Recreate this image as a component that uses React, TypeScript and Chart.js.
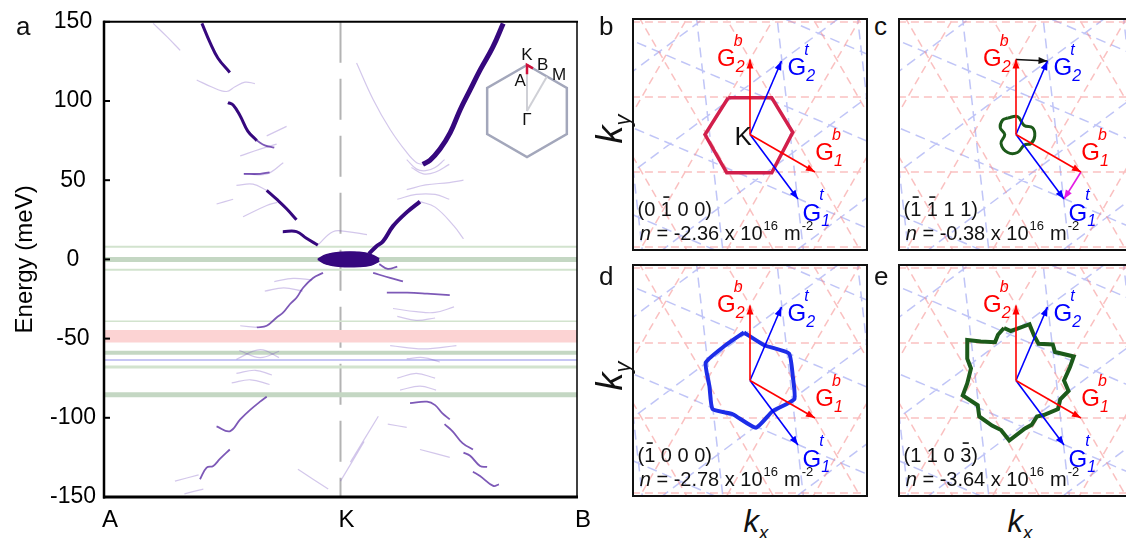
import React, { useEffect, useRef } from "react";
import { Chart, registerables } from "chart.js";

Chart.register(...registerables);

const FONT = "'Liberation Sans', Arial, Helvetica, sans-serif";
Chart.defaults.font.family = FONT;

// ================= Panel a : band structure =================
const energyTicks = [150, 100, 50, 0, -50, -100, -150];
const pathTicks = [0, 0.5, 1];
const pathLabels = ["A", "K", "B"];

// strong bands  [k along A-K-B (0..1), energy meV]
const bandA1 = [[0.207, 149], [0.224, 137], [0.241, 127], [0.266, 118]];
const bandA2 = [[0.262, 99], [0.273, 97.5], [0.288, 90.5], [0.304, 81], [0.323, 75]];
const bandA3 = [[0.344, 43.6], [0.365, 38], [0.386, 32], [0.407, 25]];
const bandA4 = [[0.378, 17.5], [0.407, 17.5], [0.428, 13.3], [0.452, 9]];
const lensUpper = [[0.452, 0], [0.47, 3], [0.5, 4.5], [0.54, 4.5], [0.565, 3], [0.582, 0.5]];
const lensLower = [[0.452, 0], [0.47, -3], [0.5, -4.5], [0.54, -4.5], [0.565, -3.5], [0.582, -1]];
const bandB1 = [[0.56, 3.5], [0.575, 8], [0.59, 11.5], [0.611, 21], [0.641, 30], [0.668, 36.5]];
const bandB2 = [[0.674, 60], [0.689, 62.5], [0.71, 69.5], [0.732, 80], [0.753, 94.5], [0.774, 107], [0.795, 119.5], [0.822, 134], [0.844, 149]];

// medium-weight bands
const bandM1 = [[0.569, -8.5], [0.605, -11.7], [0.632, -13.8]];
const bandM2 = [[0.598, -21], [0.641, -21], [0.683, -21.6], [0.731, -22.5]];
const bandM3 = [[0.647, -90.8], [0.683, -89.8], [0.7, -92], [0.715, -97], [0.731, -101]];
const bandM4 = [[0.72, -104], [0.737, -108.5], [0.758, -116], [0.78, -120]];
const bandM5 = [[0.76, -122], [0.774, -124], [0.795, -130.4], [0.81, -131]];
const bandM6 = [[0.78, -134], [0.795, -136.7], [0.823, -143], [0.835, -142]];
const bandL1 = [[0.323, -42.9], [0.344, -41.9], [0.365, -36.7], [0.379, -33.5], [0.393, -28.3], [0.407, -24.2], [0.421, -17.9], [0.442, -11.7], [0.463, -8.5]];
const bandL2 = [[0.238, -105.4], [0.266, -108.5], [0.288, -101], [0.309, -95], [0.33, -89.8], [0.344, -86.7]];
const bandL3 = [[0.203, -138.8], [0.217, -131.5], [0.231, -130.4], [0.245, -126], [0.266, -120]];
const lensTail = [[0.582, -3], [0.6, -6], [0.62, -4.5]];
const bandU1 = [[0.323, 75], [0.34, 72], [0.36, 70.5]];
const bandU2 = [[0.296, 54], [0.33, 54], [0.35, 55]];

// faint bands
const faintBands = [
  [[0.104, 149], [0.133, 140.6], [0.161, 132]],
  [[0.196, 113.3], [0.228, 108.8], [0.259, 106], [0.277, 109], [0.298, 111.9], [0.319, 111]],
  [[0.288, 65.4], [0.33, 69.6], [0.365, 72.8]],
  [[0.344, 78], [0.386, 84]],
  [[0.294, 54], [0.344, 54], [0.379, 61]],
  [[0.28, 46.7], [0.315, 47.5], [0.344, 43.6]],
  [[0.238, 35], [0.273, 38]],
  [[0.294, 26.9], [0.344, 34], [0.366, 36]],
  [[0.452, 9], [0.484, 17.5], [0.514, 17.5], [0.556, 15.6]],
  [[0.534, 124], [0.569, 101], [0.605, 82], [0.64, 67.5], [0.661, 61], [0.674, 60]],
  [[0.64, 63], [0.661, 57], [0.68, 56], [0.7, 58], [0.72, 63]],
  [[0.65, 58], [0.675, 54], [0.7, 55], [0.73, 60]],
  [[0.64, 44], [0.68, 47], [0.73, 48.5], [0.76, 50]],
  [[0.62, 38], [0.66, 41], [0.7, 41], [0.73, 38]],
  [[0.668, 36.5], [0.7, 33], [0.74, 21], [0.76, 13]],
  [[0.611, -31], [0.66, -33], [0.7, -33.5], [0.74, -30]],
  [[0.62, -36], [0.66, -38.5], [0.7, -37]],
  [[0.605, -54.4], [0.675, -56.5], [0.745, -54.4]],
  [[0.64, -62.7], [0.675, -62], [0.71, -64.8]],
  [[0.626, -82.5], [0.668, -80], [0.702, -82.5]],
  [[0.62, -75], [0.66, -72], [0.7, -75]],
  [[0.668, -120], [0.731, -125]],
  [[0.521, -128], [0.58, -99]],
  [[0.5, -140], [0.55, -115]],
  [[0.6, -104], [0.64, -106]],
  [[0.286, -57.5], [0.33, -62], [0.37, -58]],
  [[0.28, -63], [0.33, -57], [0.37, -62]],
  [[0.27, -78], [0.31, -76], [0.35, -79]],
  [[0.28, -72], [0.32, -70], [0.355, -73]],
  [[0.41, -132.5], [0.474, -145]],
  [[0.15, -140], [0.2, -136]],
  [[0.17, -148], [0.21, -145]],
  [[0.288, -41.9], [0.323, -42.9]],
  [[0.36, -14], [0.4, -12], [0.44, -13]],
  [[0.34, -20], [0.38, -18], [0.42, -20]],
];

// horizontal level markers (meV)
const greenThinLevels = [8, -6.5, -39, -68];
const greenThickLevels = [0, -59, -85.5];
const blueLevels = [-63.5];
const redBandRange = [-44.5, -52.5];

// inset Brillouin zone
const bzHexagon = [[0, 1], [0.866, 0.5], [0.866, -0.5], [0, -1], [-0.866, -0.5], [-0.866, 0.5], [0, 1]];
const bzPathGK = [[0, 0], [0, 1]];
const bzPathGM = [[0, 0], [0.433, 0.75]];
const bzPathAKB = [[0, 0.8], [0, 1], [0.13, 0.925]];
const bzLabels = ["K", "B", "M", "A", "Γ"];
const bzLabelPos = [[0, 1.22], [0.34, 1.0], [0.7, 0.78], [-0.15, 0.64], [0, -0.2]];

// ================= Panels b-e : reciprocal space =================
const gb1 = [0.866, -0.5];
const gb2 = [0, 1];
const gt1 = [0.64, -0.86];
const gt2 = [0.42, 0.98];

const contourB = [[-0.29, 0.49], [0.29, 0.49], [0.57, 0.03], [0.29, -0.51], [-0.31, -0.51], [-0.6, 0], [-0.29, 0.49]];
const contourC = [[-0.11, 0.22], [0.02, 0.24], [0.11, 0.12], [0.22, 0.09], [0.25, -0.02], [0.2, -0.12], [0.11, -0.14], [0.02, -0.24], [-0.11, -0.24], [-0.2, -0.12], [-0.15, 0], [-0.21, 0.09], [-0.18, 0.19], [-0.11, 0.22]];
const contourD = [[-0.08, 0.64], [0.19, 0.47], [0.52, 0.36], [0.57, 0.06], [0.59, -0.25], [0.3, -0.41], [0.08, -0.63], [-0.23, -0.45], [-0.5, -0.38], [-0.54, -0.08], [-0.59, 0.24], [-0.34, 0.46], [-0.08, 0.64]];
const contourE = [[-0.16, 0.7], [-0.07, 0.66], [0.02, 0.69], [0.18, 0.75], [0.24, 0.6], [0.3, 0.49], [0.49, 0.48], [0.52, 0.38], [0.77, 0.32], [0.72, 0.18], [0.64, 0], [0.7, -0.14], [0.59, -0.25], [0.56, -0.38], [0.37, -0.46], [0.28, -0.48], [0.21, -0.59], [0.12, -0.64], [-0.09, -0.8], [-0.2, -0.66], [-0.32, -0.6], [-0.49, -0.48], [-0.51, -0.33], [-0.71, -0.2], [-0.65, -0.04], [-0.6, 0.16], [-0.65, 0.29], [-0.65, 0.54], [-0.47, 0.52], [-0.28, 0.51], [-0.24, 0.61], [-0.16, 0.7]];

const millerIndices = [[0, -1, 0, 0], [-1, -1, 1, 1], [-1, 0, 0, 0], [1, 1, 0, -3]];
const densities = ["-2.36", "-0.38", "-2.78", "-3.64"];

const labelG2b = [-0.44, 1.0];
const labelG2t = [0.5, 0.88];
const labelG1b = [0.87, -0.25];
const labelG1t = [0.7, -1.06];

// ---------------- helpers ----------------
const pts = (arr) => arr.map(([x, y]) => ({ x, y }));

function lineDs(arr, color, width, extra = {}) {
  return {
    data: pts(arr),
    borderColor: color,
    backgroundColor: color,
    borderWidth: width,
    pointRadius: 0,
    tension: 0.4,
    fill: false,
    ...extra,
  };
}

function braggLines(g1, g2) {
  const fams = [g1, g2, [g1[0] + g2[0], g1[1] + g2[1]]];
  const out = [];
  for (const g of fams) {
    const len = Math.hypot(g[0], g[1]);
    const ux = g[0] / len;
    const uy = g[1] / len;
    for (const m of [-2.5, -1.5, -0.5, 0.5, 1.5, 2.5]) {
      const cx = ux * m * len;
      const cy = uy * m * len;
      out.push({ x: cx - uy * 4, y: cy + ux * 4 });
      out.push({ x: cx + uy * 4, y: cy - ux * 4 });
      out.push({ x: cx, y: null });
    }
  }
  return out;
}

function arrowHead(ctx, x1, y1, x2, y2, color) {
  const a = Math.atan2(y2 - y1, x2 - x1);
  const len = 9;
  const half = 3.5;
  ctx.beginPath();
  ctx.moveTo(x2, y2);
  ctx.lineTo(x2 - len * Math.cos(a) + half * Math.sin(a), y2 - len * Math.sin(a) - half * Math.cos(a));
  ctx.lineTo(x2 - len * Math.cos(a) - half * Math.sin(a), y2 - len * Math.sin(a) + half * Math.cos(a));
  ctx.closePath();
  ctx.fillStyle = color;
  ctx.fill();
}

function drawG(ctx, x, y, sup, sub, color) {
  ctx.fillStyle = color;
  ctx.textAlign = "left";
  ctx.textBaseline = "middle";
  ctx.font = `24px ${FONT}`;
  ctx.fillText("G", x, y);
  const w = ctx.measureText("G").width;
  ctx.font = `italic 16px ${FONT}`;
  ctx.fillText(sup, x + w - 2, y - 18);
  ctx.fillText(sub, x + w, y + 8);
}

function drawMiller(ctx, x, y, idx) {
  ctx.fillStyle = "#111";
  ctx.textAlign = "left";
  ctx.textBaseline = "alphabetic";
  ctx.font = `20px ${FONT}`;
  let cx = x;
  ctx.fillText("(", cx, y);
  cx += ctx.measureText("(").width;
  idx.forEach((v, i) => {
    if (i > 0) {
      ctx.fillText(" ", cx, y);
      cx += ctx.measureText(" ").width;
    }
    const s = String(Math.abs(v));
    ctx.fillText(s, cx, y);
    const w = ctx.measureText(s).width;
    if (v < 0) ctx.fillRect(cx + 2.5, y - 20, w - 5, 1.6);
    cx += w;
  });
  ctx.fillText(")", cx, y);
}

function drawDensity(ctx, x, y, val) {
  ctx.fillStyle = "#111";
  ctx.textAlign = "left";
  ctx.textBaseline = "alphabetic";
  let cx = x;
  ctx.font = `italic 20px ${FONT}`;
  ctx.fillText("n", cx, y);
  cx += ctx.measureText("n").width;
  ctx.font = `20px ${FONT}`;
  const t = ` = ${val} x 10`;
  ctx.fillText(t, cx, y);
  cx += ctx.measureText(t).width;
  ctx.font = `13px ${FONT}`;
  ctx.fillText("16", cx + 1, y - 10);
  cx += ctx.measureText("16").width + 7;
  ctx.font = `20px ${FONT}`;
  ctx.fillText("m", cx, y);
  cx += ctx.measureText("m").width;
  ctx.font = `13px ${FONT}`;
  ctx.fillText("-2", cx + 1, y - 10);
}

// ---------------- main chart ----------------
const frameA = {
  id: "frameA",
  afterDraw(chart) {
    const { ctx, chartArea: a, scales } = chart;
    ctx.save();
    ctx.strokeStyle = "#000";
    ctx.lineWidth = 2;
    energyTicks.forEach((v) => {
      const y = scales.y.getPixelForValue(v);
      ctx.beginPath();
      ctx.moveTo(a.left, y);
      ctx.lineTo(a.left + 6, y);
      ctx.stroke();
    });
    ctx.lineWidth = 2;
    ctx.beginPath();
    ctx.moveTo(a.left - 1, a.top);
    ctx.lineTo(a.right + 1, a.top);
    ctx.stroke();
    ctx.lineWidth = 1.5;
    ctx.beginPath();
    ctx.moveTo(a.right, a.top);
    ctx.lineTo(a.right, a.bottom);
    ctx.stroke();
    ctx.lineWidth = 2.5;
    ctx.beginPath();
    ctx.moveTo(a.left, a.top - 1);
    ctx.lineTo(a.left, a.bottom + 1.5);
    ctx.stroke();
    ctx.lineWidth = 3;
    ctx.beginPath();
    ctx.moveTo(a.left - 1, a.bottom);
    ctx.lineTo(a.right + 1, a.bottom);
    ctx.stroke();
    ctx.restore();
  },
};

function mainConfig() {
  const dark = "#36087e";
  const mid = "rgba(75,25,155,0.72)";
  const faint = "rgba(110,70,190,0.3)";
  const ds = [];
  [bandA1, bandA2, bandA3, bandA4].forEach((b) => ds.push(lineDs(b, dark, 3, { order: 0 })));
  ds.push(lineDs(bandB1, dark, 4, { order: 0 }));
  ds.push(lineDs(bandB2, dark, 5, { order: 0 }));
  ds.push(lineDs(lensUpper, dark, 1.5, { order: 0 }));
  ds.push(lineDs(lensLower, dark, 1.5, { order: 0, fill: "-1", backgroundColor: dark }));
  [bandM1, bandM2, bandM3, bandM4, bandM5, bandM6, bandL1, bandL2, bandL3, lensTail, bandU1, bandU2].forEach((b) =>
    ds.push(lineDs(b, mid, 1.8, { order: 0 }))
  );
  faintBands.forEach((b) => ds.push(lineDs(b, faint, 1.2, { order: 0 })));
  const lvl = (e, color, w) => lineDs([[0, e], [1, e]], color, w, { order: 1, tension: 0 });
  const thinW = [2, 2, 1.5, 3];
  greenThinLevels.forEach((e, i) => ds.push(lvl(e, "#d2e3ce", thinW[i])));
  const thickW = [5, 4, 5];
  greenThickLevels.forEach((e, i) => ds.push(lvl(e, "#c4d7c3", thickW[i])));
  blueLevels.forEach((e) => ds.push(lvl(e, "#c6c6f4", 2)));
  ds.push(lineDs([[0, redBandRange[0]], [1, redBandRange[0]]], "rgba(0,0,0,0)", 0, { order: 1, tension: 0 }));
  ds.push(
    lineDs([[0, redBandRange[1]], [1, redBandRange[1]]], "rgba(0,0,0,0)", 0, {
      order: 1,
      tension: 0,
      fill: "-1",
      backgroundColor: "#fcd3d3",
    })
  );
  ds.push(lineDs([[0.5, 150], [0.5, -150]], "#b3b3b3", 2, { order: 2, tension: 0, borderDash: [41, 16] }));

  return {
    type: "line",
    data: { datasets: ds },
    options: {
      responsive: false,
      devicePixelRatio: 1,
      animation: false,
      layout: { padding: { top: 18, right: 23, bottom: 0, left: 0 } },
      plugins: { legend: { display: false }, tooltip: { enabled: false } },
      scales: {
        x: {
          type: "linear",
          min: 0,
          max: 1,
          grid: { display: false, drawTicks: false },
          border: { display: false },
          afterBuildTicks: (ax) => {
            ax.ticks = pathTicks.map((value) => ({ value }));
          },
          afterFit: (s) => {
            s.height = 41;
          },
          ticks: {
            autoSkip: false,
            maxRotation: 0,
            padding: 9,
            labelOffset: 6,
            color: "#000",
            font: { size: 24, family: FONT },
            callback: (v, i) => pathLabels[i],
          },
        },
        y: {
          type: "linear",
          min: -150,
          max: 150,
          grid: { display: false, drawTicks: false },
          border: { display: false },
          afterBuildTicks: (ax) => {
            ax.ticks = energyTicks.map((value) => ({ value }));
          },
          afterFit: (s) => {
            s.width = 104;
          },
          ticks: {
            crossAlign: "center",
            padding: 8,
            color: "#000",
            font: { size: 23, family: FONT },
            callback: (v) => String(v),
          },
          title: {
            display: true,
            text: "Energy (meV)",
            color: "#000",
            font: { size: 24, family: FONT },
            padding: { top: 11, bottom: 0 },
          },
        },
      },
    },
    plugins: [frameA],
  };
}

// ---------------- inset BZ ----------------
const insetLabels = {
  id: "insetLabels",
  afterDatasetsDraw(chart) {
    const { ctx, scales } = chart;
    ctx.save();
    ctx.fillStyle = "#111";
    ctx.font = `17px ${FONT}`;
    ctx.textAlign = "center";
    ctx.textBaseline = "middle";
    bzLabels.forEach((t, i) => {
      ctx.fillText(t, scales.x.getPixelForValue(bzLabelPos[i][0]), scales.y.getPixelForValue(bzLabelPos[i][1]));
    });
    ctx.restore();
  },
};

function insetConfig() {
  return {
    type: "line",
    data: {
      datasets: [
        lineDs(bzPathAKB, "#d0103a", 2.5, { tension: 0, order: 0 }),
        lineDs(bzPathGK, "#cfd0d6", 2, { tension: 0, order: 1 }),
        lineDs(bzPathGM, "#cfd0d6", 2, { tension: 0, order: 1 }),
        lineDs(bzHexagon, "#a3a7bb", 2.5, { tension: 0, order: 2 }),
      ],
    },
    options: {
      responsive: false,
      devicePixelRatio: 1,
      animation: false,
      layout: { padding: 0 },
      plugins: { legend: { display: false }, tooltip: { enabled: false } },
      scales: {
        x: { type: "linear", display: false, min: -1.087, max: 1.087 },
        y: { type: "linear", display: false, min: -1.283, max: 1.435 },
      },
    },
    plugins: [insetLabels],
  };
}

// ---------------- panels ----------------
function panelConfig(idx, contour, color, width, tension, showK, extraArrows) {
  const arrows = [
    { from: [0, 0], to: gb2, color: "#ff0000" },
    { from: [0, 0], to: gb1, color: "#ff0000" },
    { from: [0, 0], to: gt2, color: "#0000ff" },
    { from: [0, 0], to: gt1, color: "#0000ff" },
  ];
  if (extraArrows) {
    arrows.push({ from: gb2, to: gt2, color: "#111111" });
    arrows.push({ from: gb1, to: gt1, color: "#e31be3" });
  }
  const datasets = [];
  arrows.forEach((a) => datasets.push(lineDs([a.from, a.to], a.color, 1.6, { tension: 0, order: 0 })));
  datasets.push(lineDs(contour, color, width, { tension, order: 1 }));
  datasets.push({
    data: braggLines(gb1, gb2),
    borderColor: "rgba(245,140,140,0.55)",
    borderWidth: 1.5,
    borderDash: [8, 5],
    pointRadius: 0,
    spanGaps: false,
    order: 2,
  });
  datasets.push({
    data: braggLines(gt1, gt2),
    borderColor: "rgba(130,140,240,0.5)",
    borderWidth: 1.5,
    borderDash: [10, 6],
    pointRadius: 0,
    spanGaps: false,
    order: 2,
  });

  const deco = {
    id: "panelDeco" + idx,
    afterDatasetsDraw(chart) {
      const { ctx, chartArea: a, scales } = chart;
      const X = (v) => scales.x.getPixelForValue(v);
      const Y = (v) => scales.y.getPixelForValue(v);
      ctx.save();
      arrows.forEach((ar) => arrowHead(ctx, X(ar.from[0]), Y(ar.from[1]), X(ar.to[0]), Y(ar.to[1]), ar.color));
      drawG(ctx, X(labelG2b[0]), Y(labelG2b[1]), "b", "2", "#ff0000");
      drawG(ctx, X(labelG2t[0]), Y(labelG2t[1]), "t", "2", "#0000ff");
      drawG(ctx, X(labelG1b[0]), Y(labelG1b[1]), "b", "1", "#ff0000");
      drawG(ctx, X(labelG1t[0]), Y(labelG1t[1]), "t", "1", "#0000ff");
      if (showK) {
        ctx.fillStyle = "#111";
        ctx.font = `26px ${FONT}`;
        ctx.textAlign = "center";
        ctx.textBaseline = "middle";
        ctx.fillText("K", X(-0.09), Y(-0.04));
      }
      drawMiller(ctx, X(-1.5), Y(-1.09), millerIndices[idx]);
      drawDensity(ctx, X(-1.47), Y(-1.41), densities[idx]);
      ctx.strokeStyle = "#111";
      ctx.lineWidth = 2;
      ctx.strokeRect(a.left + 1, a.top + 1, a.right - a.left - 2, a.bottom - a.top - 2);
      ctx.restore();
    },
  };

  return {
    type: "line",
    data: { datasets },
    options: {
      responsive: false,
      devicePixelRatio: 1,
      animation: false,
      layout: { padding: 0 },
      plugins: { legend: { display: false }, tooltip: { enabled: false } },
      scales: {
        x: { type: "linear", display: false, min: -1.573, max: 1.573 },
        y: { type: "linear", display: false, min: -1.553, max: 1.553 },
      },
    },
    plugins: [deco],
  };
}

function ChartCanvas({ make, left, top, width, height }) {
  const ref = useRef(null);
  useEffect(() => {
    const chart = new Chart(ref.current, make());
    return () => chart.destroy();
  }, []);
  return (
    <canvas
      ref={ref}
      width={width}
      height={height}
      style={{ position: "absolute", left, top, width, height }}
    />
  );
}

const letterStyle = (left, top) => ({
  position: "absolute",
  left,
  top,
  font: `26px ${FONT}`,
  lineHeight: "26px",
  color: "#111",
});

function KLabel({ axis, cx, cy, rotate, size }) {
  return (
    <div
      style={{
        position: "absolute",
        left: cx,
        top: cy,
        transform: `translate(-50%,-50%)${rotate ? " rotate(-90deg)" : ""}`,
        font: `italic ${size}px ${FONT}`,
        lineHeight: 1,
        whiteSpace: "nowrap",
        color: "#111",
      }}
    >
      k<span style={{ fontSize: "0.6em", position: "relative", top: "0.35em" }}>{axis}</span>
    </div>
  );
}

export default function App() {
  useEffect(() => {
    document.body.style.margin = "0";
    document.body.style.overflow = "hidden";
  }, []);
  return (
    <div
      style={{
        position: "absolute",
        left: 0,
        top: 0,
        width: 1126,
        height: 538,
        overflow: "hidden",
        background: "#fff",
      }}
    >
      <ChartCanvas make={mainConfig} left={0} top={0} width={600} height={538} />
      <ChartCanvas make={insetConfig} left={477} top={45} width={100} height={125} />
      <ChartCanvas make={() => panelConfig(0, contourB, "#d21f4b", 3.5, 0, true, false)} left={632} top={18} width={236} height={233} />
      <ChartCanvas make={() => panelConfig(1, contourC, "#1c5a1a", 3, 0.4, false, true)} left={898} top={18} width={236} height={233} />
      <ChartCanvas make={() => panelConfig(2, contourD, "#1d2de8", 4, 0.15, false, false)} left={632} top={264} width={236} height={233} />
      <ChartCanvas make={() => panelConfig(3, contourE, "#1c5a1a", 4, 0, false, false)} left={898} top={264} width={236} height={233} />
      <div style={letterStyle(16, 13)}>a</div>
      <div style={letterStyle(599, 13)}>b</div>
      <div style={letterStyle(874, 13)}>c</div>
      <div style={letterStyle(599, 263)}>d</div>
      <div style={letterStyle(874, 263)}>e</div>
      <KLabel axis="y" cx={610} cy={129} rotate size={36} />
      <KLabel axis="y" cx={610} cy={376} rotate size={36} />
      <KLabel axis="x" cx={756} cy={521} size={31} />
      <KLabel axis="x" cx={1020} cy={521} size={31} />
    </div>
  );
}
